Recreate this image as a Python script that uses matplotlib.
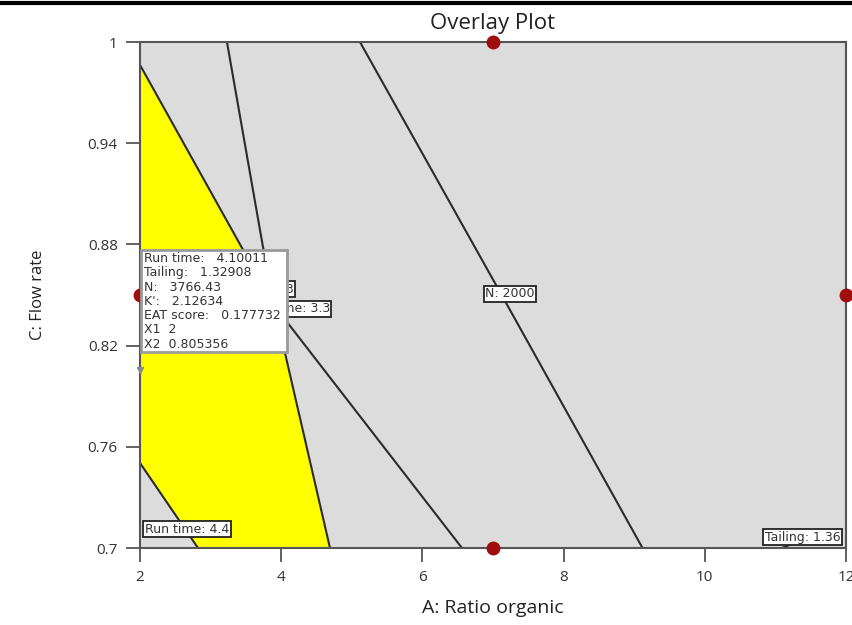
import numpy as np
import matplotlib.pyplot as plt
from matplotlib.lines import Line2D
from matplotlib.patches import Rectangle

plt.rcParams['font.family'] = ['Open Sans', 'DejaVu Sans']

# -----------------------------------------
# Data (A: ratio organic, C: flow rate)
# -----------------------------------------
x_ticks = [2, 4, 6, 8, 10, 12]
y_ticks = [0.7, 0.76, 0.82, 0.88, 0.94, 1.0]
y_ticklabels = ['0.7', '0.76', '0.82', '0.88', '0.94', '1']

# contour: run time = 3.3
rt33_x = [2.0, 3.445, 4.082, 6.561]
rt33_y = [0.9864, 0.8779, 0.834, 0.70]
# contour: run time = 4.4
rt44_x = [2.0, 2.822]
rt44_y = [0.7504, 0.70]
# steep contour bounding the yellow region on the right (label mostly hidden)
k_x = [3.232, 3.742, 4.054, 4.691]
k_y = [1.0, 0.8785, 0.8156, 0.70]
# contour: N = 2000
n_x = [5.116, 7.10, 9.118]
n_y = [1.0, 0.8517, 0.70]
# contour: tailing = 1.36
tail_x = [11.09, 11.235, 11.39]
tail_y = [0.70, 0.7024, 0.7047]

# design points
pts_x = [7, 7, 2, 12]
pts_y = [1.0, 0.7, 0.85, 0.85]

# flagged optimum
flag_x, flag_y = 2, 0.805356
flag_lines = ['Run time:   4.10011', 'Tailing:   1.32908', 'N:   3766.43',
              "K':   2.12634", 'EAT score:   0.177732', 'X1  2', 'X2  0.805356']

# -----------------------------------------
# Figure
# -----------------------------------------
fig = plt.figure(figsize=(8.53, 6.25), dpi=100)
ax = fig.add_axes([0.1641, 0.1232, 0.8277, 0.8096])
ax.set_xlim(2, 12)
ax.set_ylim(0.7, 1.0)
ax.set_facecolor('#dcdcdc')

# yellow feasible region between the constraints
yy = np.linspace(0.7, 1.0, 1201)
x33 = np.interp(yy, rt33_y[::-1], rt33_x[::-1])
xk = np.interp(yy, k_y[::-1], k_x[::-1])
x44 = np.interp(yy, rt44_y[::-1], rt44_x[::-1])
right = np.minimum(x33, xk)
left = np.maximum(2.0, np.where(yy <= rt44_y[0], x44, 2.0))
ax.fill_betweenx(yy, left, right, where=right > left, color='#ffff00', lw=0, zorder=1)

line_kw = dict(color='#2b2b2b', lw=1.5, zorder=2, solid_capstyle='butt')
for lx, ly in [(rt33_x, rt33_y), (rt44_x, rt44_y), (k_x, k_y), (n_x, n_y), (tail_x, tail_y)]:
    ax.plot(lx, ly, **line_kw)

# contour labels
lab_box = dict(boxstyle='square,pad=0.12', fc='white', ec='#222222', lw=1.3)
lab_kw = dict(fontsize=9, family='DejaVu Sans', va='center', color='#333333',
              bbox=lab_box, zorder=4)
ax.text(2.07, 0.7112, 'Run time: 4.4', ha='left', **lab_kw)
ax.text(11.92, 0.7065, 'Tailing: 1.36', ha='right', **lab_kw)
ax.text(7.24, 0.8506, 'N: 2000', ha='center', **lab_kw)
ax.text(4.69, 0.8417, 'Run time: 3.3', ha='right', **lab_kw)
ax.text(4.18, 0.8535, "K': 3", ha='right', **lab_kw)

# design points
ax.plot(pts_x, pts_y, 'o', color='#a00d0d', ms=9, clip_on=False, zorder=6)

# flag marker and info box
ax.plot([flag_x], [flag_y], marker='v', color='#8a8a8a', ms=4, clip_on=False, zorder=5)
ax.add_patch(Rectangle((2.01, 0.8162), 2.07, 0.0605, fc='white', ec='#9a9a9a',
                       lw=2.0, zorder=7, clip_on=False))
ax.text(2.05, 0.8755, '\n'.join(flag_lines), fontsize=9, family='DejaVu Sans',
        ha='left', va='top', color='#333333', linespacing=1.13, zorder=8)

# axes styling
for s in ax.spines.values():
    s.set_color('#555555')
    s.set_linewidth(1.5)
ax.set_xticks(x_ticks)
ax.set_yticks(y_ticks)
ax.set_yticklabels(y_ticklabels)
ax.tick_params(axis='both', direction='out', length=10, width=1.3, color='#555555',
               labelsize=11, labelcolor='#333333', pad=6)
ax.set_xlabel('A: Ratio organic', fontsize=14, color='#222222', labelpad=10)
ax.set_ylabel('C: Flow rate', fontsize=12, color='#222222', labelpad=30)
ax.set_title('Overlay Plot', fontsize=16, color='#222222', pad=9)

# thick rule across the top of the picture
fig.add_artist(Line2D([0, 1], [0.996, 0.996], transform=fig.transFigure,
                      color='black', lw=3))

fig.savefig('out.png', dpi=100)
